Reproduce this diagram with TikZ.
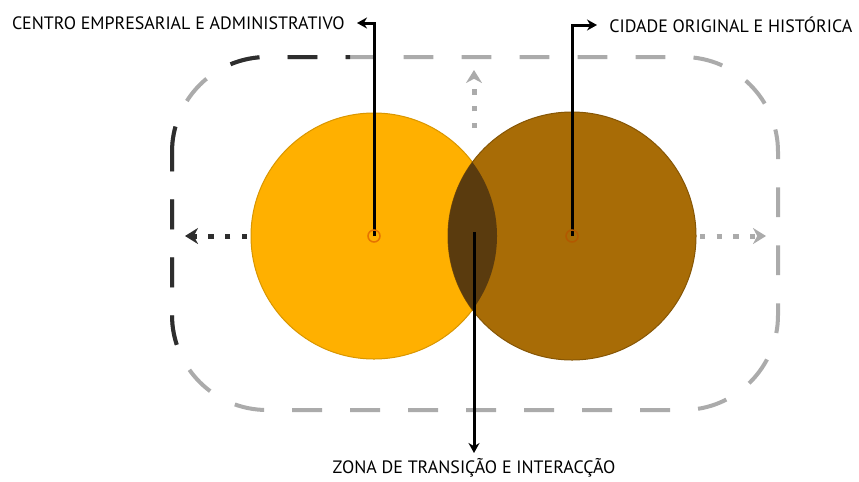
\documentclass[tikz,border=0pt]{standalone}
\usepackage{fontspec}
\setmainfont{PT Sans}
\usetikzlibrary{arrows.meta}
\definecolor{zonaEmp}{HTML}{FFB000}
\definecolor{zonaHist}{HTML}{A86C06}
\definecolor{zonaTrans}{HTML}{5A3B0E}
\definecolor{framegray}{HTML}{ABABAB}
\definecolor{framedark}{HTML}{2E2E2E}

\begin{document}
\begin{tikzpicture}[x=0.2mm, y=-0.2mm,
	lead/.style={line width=0.6mm, -{Stealth[length=2mm, width=2.2mm]}},
	dotarrow/.style={line width=1mm, dash pattern=on 3pt off 6.5pt, -{Stealth[length=2.6mm, width=3.2mm]}},
	frame/.style={line width=0.8mm, rounded corners=19mm, dash pattern=on 17pt off 16pt, dash phase=6pt},
	hub/.style={line width=0.3mm, fill=none},
	tag/.style={font=\fontsize{10.2}{12}\selectfont, text=black}]
	%%%%% START %%%%%
	\useasboundingbox (0, 0) rectangle (859, 481);

	% the frame round both zones
	\draw[frame, color=framegray] (172, 57) rectangle (778, 410);
	\begin{scope}
		\clip (150, 110) rectangle (186, 370);
		\draw[frame, color=framedark] (172, 57) rectangle (778, 410);
	\end{scope}
	\begin{scope}
		\clip (225, 40) rectangle (350, 75);
		\draw[frame, color=framedark] (172, 57) rectangle (778, 410);
	\end{scope}

	% the two zones
	\coordinate (cEmp) at (374, 236);
	\coordinate (cHist) at (572, 236);
	\fill[zonaEmp] (cEmp) circle (123);
	\draw[line width=0.2mm, color=zonaEmp!85!black] (cEmp) circle (123);
	\fill[zonaHist] (cHist) circle (124);
	\draw[line width=0.2mm, color=zonaHist!80!black] (cHist) circle (124);
	\begin{scope}
		\clip (cEmp) circle (123);
		\fill[zonaTrans] (cHist) circle (124);
	\end{scope}

	% outward growth
	\draw[dotarrow, color=framedark] (247, 236) -- (185, 236);
	\draw[dotarrow, color=framegray] (700, 236) -- (766, 236);
	\draw[dotarrow, color=framegray] (474, 128) -- (474, 70);

	% labels
	\node[tag, anchor=east, inner sep=2.4mm] (lblEmp) at (357, 23) {CENTRO EMPRESARIAL E ADMINISTRATIVO};
	\node[tag, anchor=west, inner sep=2.4mm] (lblHist) at (597, 25) {CIDADE ORIGINAL E HISTÓRICA};
	\node[tag, anchor=north, inner sep=1mm] (lblTrans) at (474, 453) {ZONA DE TRANSIÇÃO E INTERACÇÃO};
	\coordinate (zTrans) at (474, 232);

	\draw[lead] (cEmp) |- (lblEmp.east);
	\draw[lead] (cHist) |- (lblHist.west);
	\draw[lead] (zTrans) -- (lblTrans.north);

	\draw[hub, color=orange!90!black] (cEmp) circle (6);
	\draw[hub, color=orange!70!black] (cHist) circle (6);
	%%%%% END %%%%%
\end{tikzpicture}
\end{document}
